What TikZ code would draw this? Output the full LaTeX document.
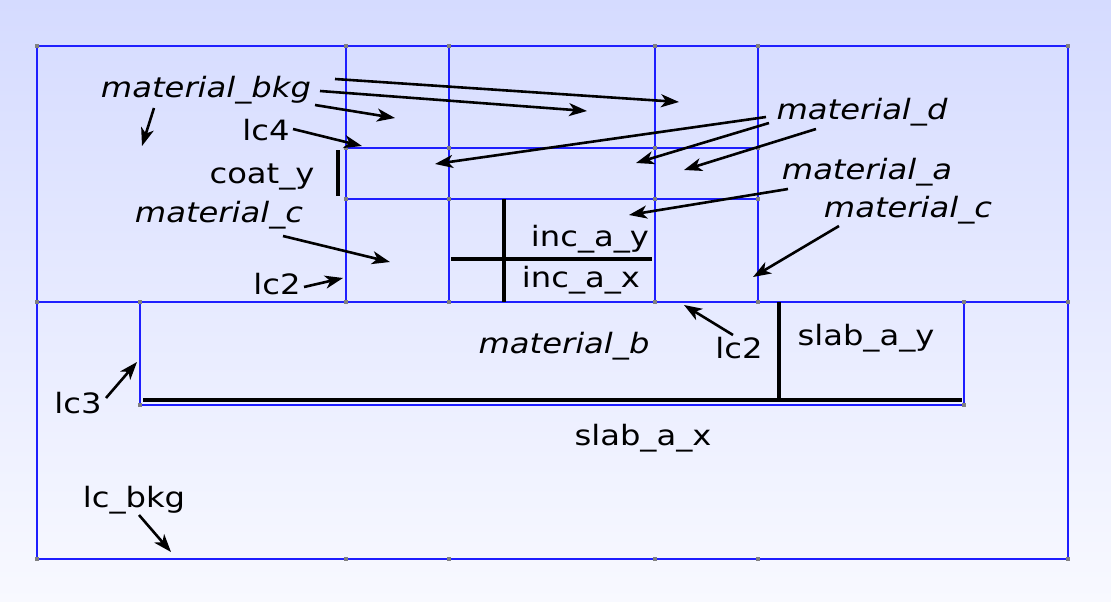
\documentclass[tikz,border=0pt]{standalone}
\usepackage{fontspec}
\setmainfont{DejaVu Sans}[FakeStretch=1.15]
\usetikzlibrary{arrows.meta}

\definecolor{bgtop}{RGB}{213,219,255}
\definecolor{bgbot}{RGB}{248,249,255}
\definecolor{meshblue}{RGB}{30,30,255}

\begin{document}
\begin{tikzpicture}[
    x=1pt, y=-1pt,
    every node/.style={font=\fontsize{28}{34}\selectfont, text=black, inner sep=0pt, anchor=base},
    mat/.style={font=\fontsize{28}{34}\selectfont\itshape},
    edge/.style={draw=meshblue, line width=1.2pt},
    bar/.style={draw=black, line width=3.5pt},
    arr/.style={line width=2.6pt, -{Stealth[length=18pt, width=13pt, inset=5pt]}}
]

    \useasboundingbox (0,0) rectangle (1111,602);
    \shade[top color=bgtop, bottom color=bgbot] (0,0) rectangle (1111,602);

    % ==========================
    % MESH: the blue cells
    % ==========================
    \draw[edge] (37,46) rectangle (1068,559);
    \draw[edge] (37,302) -- (1068,302);
    \foreach \x in {346, 449, 655, 758}
        \draw[edge] (\x,46) -- (\x,302);
    \draw[edge] (346,148) -- (758,148);
    \draw[edge] (346,199) -- (758,199);
    \draw[edge] (140,302) rectangle (964,405);

    % corner points of the cells
    \foreach \x/\y in {37/46, 346/46, 449/46, 655/46, 758/46, 1068/46,
        346/148, 449/148, 655/148, 758/148,
        346/199, 449/199, 655/199, 758/199,
        37/302, 140/302, 346/302, 449/302, 655/302, 758/302, 964/302, 1068/302,
        140/405, 964/405,
        37/559, 346/559, 449/559, 655/559, 758/559, 1068/559}
    {
        \fill[gray] (\x,\y) +(-1.6,-1.6) rectangle +(1.6,1.6);
    }

    % ==========================
    % THICK LINES: slab, inclusion, coat
    % ==========================
    \draw[bar] (143,400) -- (962,400);
    \draw[bar] (779,302) -- (779,400);
    \draw[bar] (451,259) -- (652,259);
    \draw[bar] (504,199) -- (504,302);
    \draw[bar] (338,150) -- (338,196);

    % ==========================
    % LABELS
    % ==========================
    \foreach \n/\x/\y/\t in {
        lcfour/266/140/lc4,
        coaty/262/183/{coat\_y},
        lctwoa/277/294/lc2,
        incay/590/246/{inc\_a\_y},
        incax/581/287/{inc\_a\_x},
        lctwob/739/358/lc2,
        slabay/866/345/{slab\_a\_y},
        lcthree/78/413/lc3,
        slabax/643/445/{slab\_a\_x},
        lcbkg/134/507/{lc\_bkg}}
    {
        \node (\n) at (\x,\y) {\t};
    }

    \foreach \n/\x/\y/\t in {
        mbkg/206/97/{material\_bkg},
        mcl/219/222/{material\_c},
        md/862/119/{material\_d},
        ma/867/179/{material\_a},
        mcr/908/217/{material\_c},
        mb/564/353/{material\_b}}
    {
        \node[mat] (\n) at (\x,\y) {\t};
    }

    % ==========================
    % POINTERS: start s, tip e
    % ==========================
    \foreach \i/\sx/\sy/\ex/\ey in {
        1/335/79/679/102,
        2/320/91/587/111,
        3/315/105/395/118,
        4/154/108/142/146,
        5/293/129/362/146,
        6/283/236/390/262,
        7/304/287/343/278,
        8/766/117/435/164,
        9/769/123/636/163,
        10/816/129/684/170,
        11/788/189/629/215,
        12/839/226/753/277,
        13/733/335/684/305,
        14/106/398/137/362,
        15/139/515/171/552}
    {
        \coordinate (s\i) at (\sx,\sy);
        \coordinate (e\i) at (\ex,\ey);
        \draw[arr] (s\i) -- (e\i);
    }

\end{tikzpicture}
\end{document}
